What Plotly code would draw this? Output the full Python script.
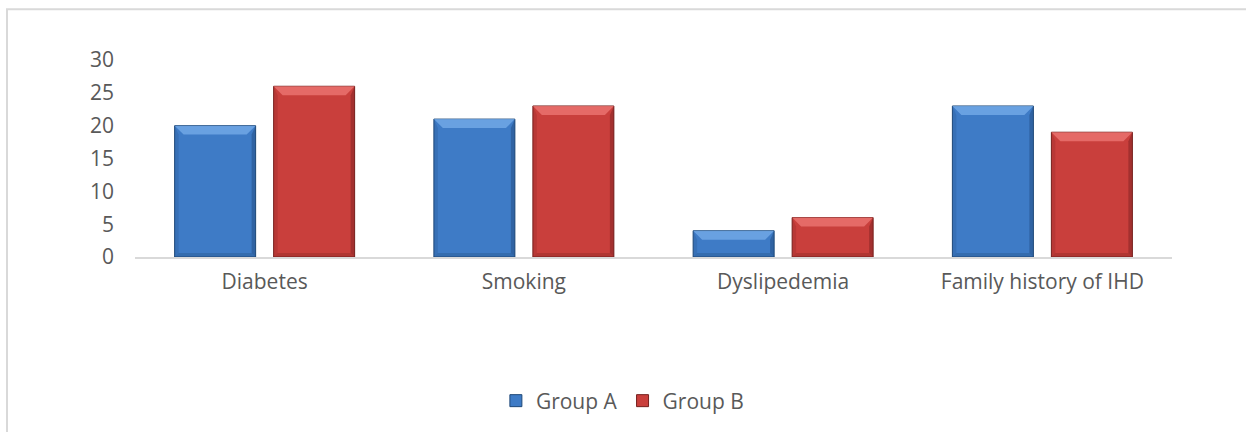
import plotly.graph_objects as go

categories = ["Diabetes", "Smoking", "Dyslipedemia", "Family history of IHD"]
group_a = [20, 21, 4, 23]
group_b = [26, 23, 6, 19]
y_ticks = [0, 5, 10, 15, 20, 25, 30]

# layout constants (pixels)
W, H = 1246, 432
ML, MR, MT, MB = 135, 74, 60, 174
PW = W - ML - MR
PH = H - MT - MB
cat_px = PW / len(categories)
BAR_W = 81 / cat_px
GAP = 18 / cat_px
OFF_A = -(BAR_W + GAP / 2)
OFF_B = GAP / 2
YMAX = 30
px_per_unit = PH / YMAX

TEXT = "#595959"
FONT = "Open Sans"

series = [
    ("Group A", group_a, OFF_A, "#3E7BC6", "#78AEEA", "#1F4878"),
    ("Group B", group_b, OFF_B, "#C93F3C", "#EE7A76", "#76201E"),
]

x_idx = list(range(len(categories)))
fig = go.Figure()
shapes = []
TOP_PX = 9
SIDE_PX = 4
for name, vals, off, col, light, dark in series:
    fig.add_trace(go.Bar(
        x=x_idx, y=vals, name=name, width=BAR_W, offset=off,
        marker=dict(color=col, line=dict(color=dark, width=1)),
    ))
    for xi, v in zip(x_idx, vals):
        x0 = xi + off
        x1 = x0 + BAR_W
        tdx = TOP_PX / cat_px
        tdy = min(TOP_PX / px_per_unit, v / 2)
        sdx = SIDE_PX / cat_px
        sdy = SIDE_PX / px_per_unit
        # top bevel (light)
        shapes.append(dict(type="path", xref="x", yref="y", line=dict(width=0), fillcolor=light,
                           path=f"M{x0},{v} L{x1},{v} L{x1-tdx},{v-tdy} L{x0+tdx},{v-tdy} Z",
                           layer="above", opacity=0.75))
        # right bevel (dark)
        shapes.append(dict(type="path", xref="x", yref="y", line=dict(width=0), fillcolor=dark,
                           path=f"M{x1},{v} L{x1},0 L{x1-sdx},{sdy} L{x1-sdx},{v-tdy} Z",
                           layer="above", opacity=0.45))
        # bottom bevel (dark)
        shapes.append(dict(type="path", xref="x", yref="y", line=dict(width=0), fillcolor=dark,
                           path=f"M{x0},0 L{x1},0 L{x1-sdx},{sdy} L{x0+sdx},{sdy} Z",
                           layer="above", opacity=0.3))
        # left bevel (subtle)
        shapes.append(dict(type="path", xref="x", yref="y", line=dict(width=0), fillcolor=dark,
                           path=f"M{x0},0 L{x0},{v} L{x0+sdx},{v-tdy} L{x0+sdx},{sdy} Z",
                           layer="above", opacity=0.2))

# outer chart border (partially off-canvas)
shapes.append(dict(type="rect", xref="paper", yref="paper",
                   x0=(7 - ML) / PW, x1=(W + 10 - ML) / PW,
                   y0=(PH - (H + 10 - MT)) / PH, y1=(PH - (9 - MT)) / PH,
                   line=dict(color="#D9D9D9", width=2), fillcolor="rgba(0,0,0,0)", layer="below"))

fig.update_layout(
    width=W, height=H,
    margin=dict(l=ML, r=MR, t=MT, b=MB),
    paper_bgcolor="white", plot_bgcolor="white",
    font=dict(family=FONT, size=21, color=TEXT),
    barmode="group",
    shapes=shapes,
    showlegend=True,
    legend=dict(orientation="h", x=0.47, xanchor="center", y=(PH - (401 - MT)) / PH, yanchor="middle",
                font=dict(size=21, color=TEXT), itemclick=False),
    xaxis=dict(range=[-0.5, len(categories) - 0.5], tickvals=x_idx, ticktext=categories,
               showgrid=False, zeroline=False, showline=True, linecolor="#D9D9D9", linewidth=2,
               ticks="", ticklabelstandoff=5, fixedrange=True),
    yaxis=dict(range=[0, YMAX], tickvals=y_ticks, showgrid=False, zeroline=False, showline=False,
               ticks="", ticklabelstandoff=20, fixedrange=True),
)

fig.write_html("out.html", config={"displayModeBar": False})
